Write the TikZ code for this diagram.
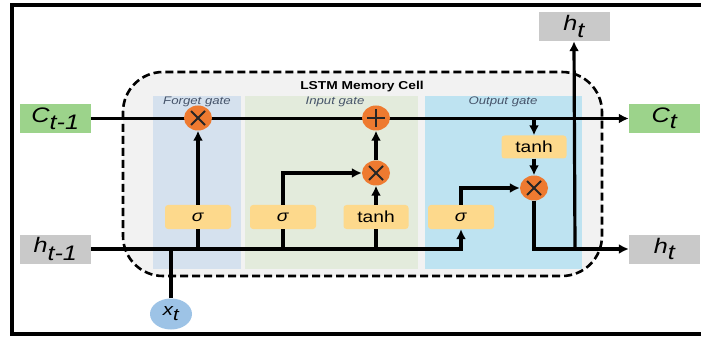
\documentclass[tikz,border=0pt]{standalone}
\usepackage{fontspec}
\setmainfont[FakeStretch=1.2]{Liberation Sans}
\usepackage{xcolor}
\usetikzlibrary{arrows.meta,shapes.geometric}
\definecolor{cellgray}{HTML}{F2F2F2}
\definecolor{forgetbg}{HTML}{D5E1EE}
\definecolor{inputbg}{HTML}{E3EBDC}
\definecolor{outputbg}{HTML}{BEE3F1}
\definecolor{cgreen}{HTML}{9CD38B}
\definecolor{hgray}{HTML}{C9C9C9}
\definecolor{actyellow}{HTML}{FDD98C}
\definecolor{oporange}{HTML}{EE7A30}
\definecolor{xblue}{HTML}{9DC3E6}
\definecolor{gatetext}{HTML}{46546A}
\tikzset{
  statebox/.style={rectangle, minimum width=71pt, minimum height=29pt, inner sep=0pt, font=\fontsize{21}{24}\selectfont\itshape},
  actbox/.style={rectangle, rounded corners=3pt, fill=actyellow, minimum width=66pt, minimum height=24pt, inner sep=0pt, font=\fontsize{16}{18}\selectfont},
  opnode/.style={ellipse, fill=oporange, minimum width=28pt, minimum height=25pt, inner sep=0pt},
  mulnode/.style={opnode, path picture={
      \draw[line width=1.8pt, black!85] ([shift={(-7pt,-7pt)}]path picture bounding box.center) -- ([shift={(7pt,7pt)}]path picture bounding box.center);
      \draw[line width=1.8pt, black!85] ([shift={(-7pt,7pt)}]path picture bounding box.center) -- ([shift={(7pt,-7pt)}]path picture bounding box.center);}},
  addnode/.style={opnode, path picture={
      \draw[line width=1.8pt, black!85] ([shift={(-9pt,0pt)}]path picture bounding box.center) -- ([shift={(9pt,0pt)}]path picture bounding box.center);
      \draw[line width=1.8pt, black!85] ([shift={(0pt,-9pt)}]path picture bounding box.center) -- ([shift={(0pt,9pt)}]path picture bounding box.center);}},
  gatelabel/.style={font=\fontsize{11}{13}\selectfont\itshape, text=gatetext},
  wire/.style={line width=3.2pt},
  flow/.style={wire, -{Latex[length=10pt,width=10pt]}}
}
\begin{document}
\begin{tikzpicture}[x=1pt, y=-1pt]
  \useasboundingbox (0,0) rectangle (701,339);
  \clip (0,0) rectangle (701,339);
  \draw[line width=3.8pt] (760,5) -- (12,5) -- (12,334) -- (760,334);
  \draw[fill=cellgray, line width=2.6pt, dash pattern=on 8pt off 4pt, rounded corners=40pt] (123,72) rectangle (602,276);
  \fill[forgetbg] (153,96) rectangle (241,269);
  \fill[inputbg] (245,96) rectangle (418,269);
  \fill[outputbg] (425,96) rectangle (582,269);
  \node[font=\fontsize{11.5}{13}\selectfont\bfseries] (celltitle) at (362,87) {LSTM Memory Cell};
  \node[gatelabel] (forgetlbl) at (197,102) {Forget gate};
  \node[gatelabel] (inputlbl) at (335,102) {Input gate};
  \node[gatelabel] (outputlbl) at (503,102) {Output gate};

  \node[statebox, fill=cgreen] (cprev) at (55.5,118.5) {C$_{\textit{t-1}}$};
  \node[statebox, fill=cgreen] (cnext) at (664.5,118.5) {C$_{\textit{t}}$};
  \node[statebox, fill=hgray] (hprev) at (55.5,249) {h$_{\textit{t-1}}$};
  \node[statebox, fill=hgray] (hnext) at (664.5,249) {h$_{\textit{t}}$};
  \node[statebox, fill=hgray] (hup) at (574,26.5) {h$_{\textit{t}}$};
  \node[ellipse, fill=xblue, minimum width=42pt, minimum height=31pt, inner sep=0pt, font=\fontsize{17}{18}\selectfont\itshape] (xin) at (171,314) {x$_{\textit{t}}$};

  \node[actbox] (fsig) at (198,217) {\textit{σ}};
  \node[actbox] (isig) at (283,217) {\textit{σ}};
  \node[actbox, minimum width=65pt] (itanh) at (376,217) {tanh};
  \node[actbox] (osig) at (461,217) {\textit{σ}};
  \node[actbox, minimum width=65pt, minimum height=23pt] (otanh) at (534,147) {tanh};
  \coordinate (hsplit) at (575,249);

  \draw[flow] (cprev.east) -- (cnext.west);
  \draw[flow] (hprev.east) -| (osig.south);
  \draw[wire] (xin.north) -- (xin.north |- hprev.east);
  \draw[wire] (fsig.south) -- (fsig.south |- hprev.east);
  \draw[wire] (isig.south) -- (isig.south |- hprev.east);
  \draw[wire] (itanh.south) -- (itanh.south |- hprev.east);
  \draw[flow] (otanh.north |- cprev.east) -- (otanh.north);

  \node[mulnode] (fmul) at (198,118) {};
  \node[addnode] (iadd) at (376,118) {};
  \node[mulnode] (imul) at (376,173) {};
  \node[mulnode] (omul) at (534,188) {};

  \draw[flow] (fsig.north) -- (fmul.south);
  \draw[flow] (isig.north) |- (imul.west);
  \draw[flow] (itanh.north) -- (imul.south);
  \draw[flow] (imul.north) -- (iadd.south);
  \draw[flow] (otanh.south) -- (omul.north);
  \draw[flow] (osig.north) |- (omul.west);
  \draw[flow] (omul.south) |- (hnext.west);
  \draw[flow] (hsplit) -- (hup.south);
\end{tikzpicture}
\end{document}
